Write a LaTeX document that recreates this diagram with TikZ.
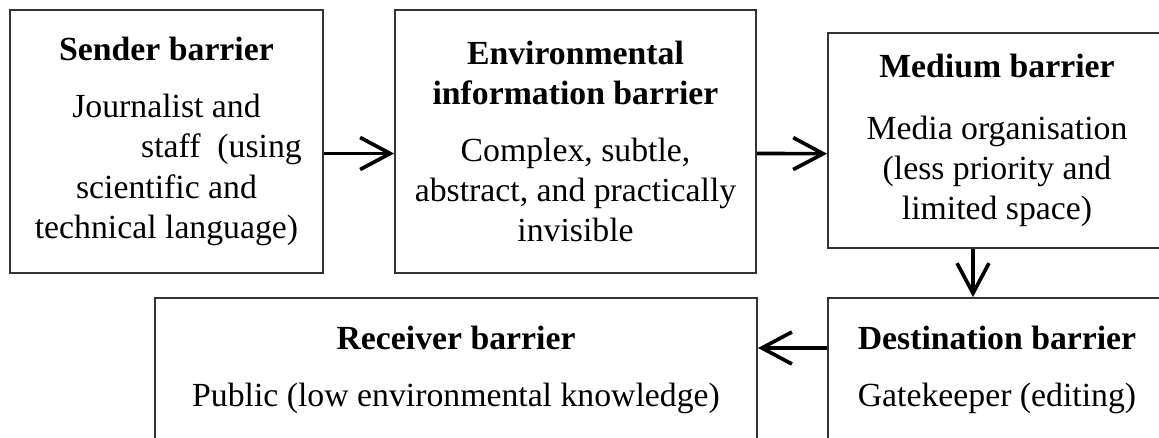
\documentclass[tikz,border=0pt]{standalone}
\usepackage{fontspec}
\setmainfont{Liberation Serif}
\usetikzlibrary{arrows.meta}
\usetikzlibrary{positioning}
\tikzset{
    barrier/.style={
        draw=black!80,
        rectangle,
        line width=1.3pt,
        inner sep=0pt,
        align=center,
        font=\fontsize{24}{28.5}\selectfont
    },
    flow/.style={
        draw,
        line width=2.6pt,
        -{Straight Barb[length=7.5mm, width=8mm]}
    }
}

\begin{document}
\begin{tikzpicture}[x=0.025cm, y=-0.025cm]
  \useasboundingbox (0,0) rectangle (1159,438);

  % Top row
  \node[barrier, minimum width=7.825cm, minimum height=6.575cm] (sender) at (166.5,141.5)
    {\textbf{Sender barrier}\\[12pt]
     Journalist and\\
     \hspace*{2.75cm}staff\ \ (using\\
     scientific and\\
     technical language)};
  \node[barrier, minimum width=9.025cm, minimum height=6.575cm] (env) at (575.5,141.5)
    {\textbf{Environmental}\\
     \textbf{information barrier}\\[12pt]
     Complex, subtle,\\
     abstract, and practically\\
     invisible};
  \node[barrier, minimum width=8.45cm, minimum height=5.375cm] (medium) at (997,140.5)
    {\textbf{Medium barrier}\\[15pt]
     Media organisation\\
     (less priority and\\
     limited space)};

  % Bottom row
  \node[barrier, minimum width=8.45cm, minimum height=3.6cm] (dest) at (997,370)
    {\textbf{Destination barrier}\\[12pt]
     Gatekeeper (editing)};
  \node[barrier, minimum width=15.05cm, minimum height=3.6cm] (receiver) at (456,370)
    {\textbf{Receiver barrier}\\[12pt]
     Public (low environmental knowledge)};

  % Arrows
  \draw[flow] ([yshift=-0.3cm]sender.east) -- ([yshift=-0.3cm]env.west);
  \draw[flow] ([yshift=-0.3cm]env.east) -- ([yshift=-0.33cm]medium.west);
  \draw[flow] ([xshift=-0.6cm]medium.south) -- ([xshift=-0.6cm]dest.north);
  \draw[flow] ([yshift=0.55cm]dest.west) -- ([yshift=0.55cm]receiver.east);
\end{tikzpicture}
\end{document}
